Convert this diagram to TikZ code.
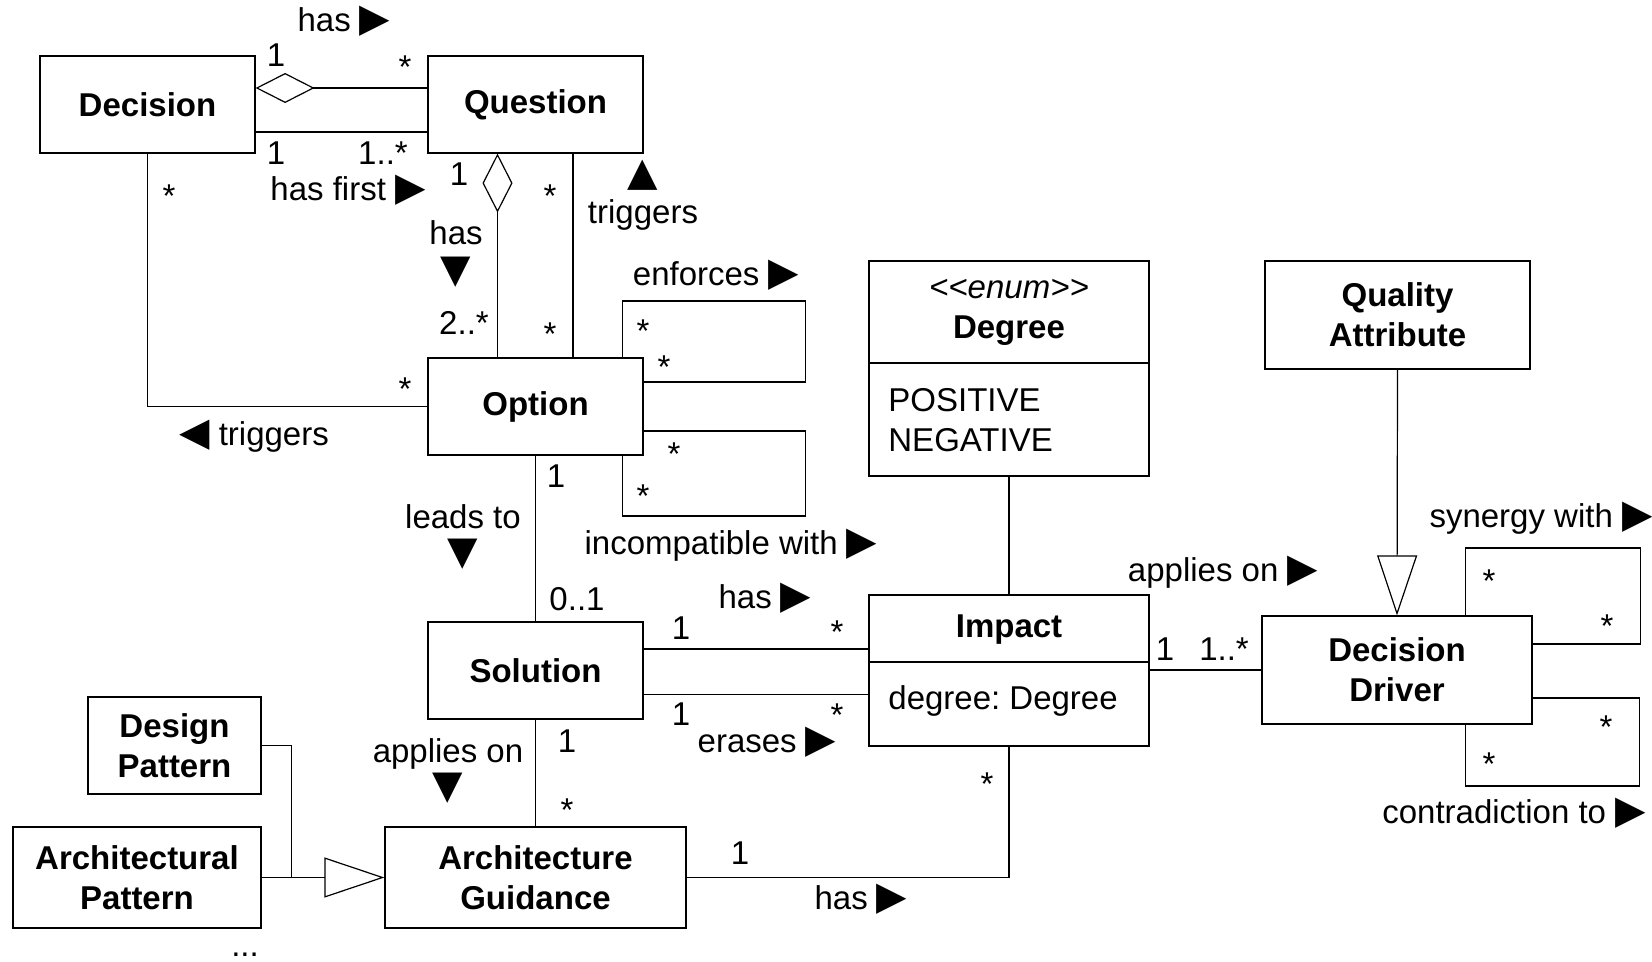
\documentclass[tikz,border=0pt]{standalone}
\usepackage{fontspec}
\setmainfont{Liberation Sans}
\newfontfamily\symfont[Scale=1.2]{DejaVu Sans}
\usetikzlibrary{arrows.meta,calc}
\newcommand{\trR}{{\symfont ▶}}
\newcommand{\trL}{{\symfont ◀}}
\newcommand{\trU}{{\symfont ▲}}
\newcommand{\trD}{{\symfont ▼}}
\begin{document}
\begin{tikzpicture}[x=0.5pt,y=-0.5pt,
		font=\fontsize{16.5}{20}\selectfont,
		cls/.style={draw,line width=0.6pt,align=center,inner sep=0pt,
			font=\fontsize{16.5}{20}\selectfont\bfseries,
			minimum width=107.5pt,minimum height=48.5pt},
		lbl/.style={inner sep=0pt,align=center},
		mult/.style={inner sep=0pt},
		assoc/.style={line width=0.6pt},
		agg/.style={assoc,{Diamond[open,length=29.5pt,width=15pt]}-},
		gen/.style={assoc,-{Triangle[open,length=30pt,width=20pt]}}]
		\useasboundingbox (0,0) rectangle (1652,962);
		% classes
		\node[cls] (decision) at (147.5,104.5) {Decision};
		\node[cls] (question) at (535.5,104.5) {Question};
		\node[cls] (option) at (535.5,406.5) {Option};
		\node[cls] (solution) at (535.5,670.5) {Solution};
		\node[cls,minimum width=140pt,minimum height=75.5pt] (impact) at (1009,670.5) {};
		\node[lbl,font=\fontsize{16.5}{20}\selectfont\bfseries] (impactname) at (1009,630) {Impact};
		\node[lbl,anchor=west] (impactattr) at (888,701) {degree:\ Degree};
		\node[cls,minimum width=140pt,minimum height=107.5pt] (degree) at (1009,368.5) {};
		\node[lbl] (degreename) at (1009,312) {\textit{<\kern0pt<enum>\kern0pt>}\\\textbf{Degree}};
		\node[lbl,anchor=west,align=left] (degreevals) at (888,420) {POSITIVE\\NEGATIVE};
		\node[cls,minimum width=132.5pt,minimum height=54pt] (qa) at (1397.5,315) {Quality\\Attribute};
		\node[cls,minimum width=135pt,minimum height=54pt] (dd) at (1397,670) {Decision\\Driver};
		\node[cls,minimum width=86.5pt,minimum height=48.5pt] (dp) at (174.5,745.5) {Design\\Pattern};
		\node[cls,minimum width=124pt,minimum height=50.5pt] (ap) at (137,877.5) {Architectural\\Pattern};
		\node[cls,minimum width=150.5pt,minimum height=50.5pt] (ag) at (535.5,877.5) {Architecture\\Guidance};
		\node[lbl] (more) at (245,955) {...};
		% compartments
		\draw[assoc] ($(impact.west)+(0,-8.5)$) -- ($(impact.east)+(0,-8.5)$);
		\draw[assoc] ($(degree.west)+(0,-5.5)$) -- ($(degree.east)+(0,-5.5)$);
		% connectors
		\draw[agg] ($(decision.east)+(0,-16.5)$) -- ($(question.west)+(0,-16.5)$);
		\draw[assoc] ($(decision.east)+(0,27.5)$) -- ($(question.west)+(0,27.5)$);
		\draw[assoc] (decision.south) |- (option.west);
		\draw[agg] ($(question.south)+(-38,0)$) -- ($(option.north)+(-38,0)$);
		\draw[assoc] ($(question.south)+(37.5,0)$) -- ($(option.north)+(37.5,0)$);
		\draw[assoc] ($(option.north east)+(-21,0)$) |- ($(option.east)+(162,-105.5)$) |- ($(option.east)+(0,-24.5)$);
		\draw[assoc] ($(option.east)+(0,24.5)$) -| ($(option.east)+(162,109.5)$) -| ($(option.south east)+(-21,0)$);
		\draw[assoc] (option.south) -- (solution.north);
		\draw[assoc] ($(solution.east)+(0,-21.5)$) -- ($(impact.west)+(0,-21.5)$);
		\draw[assoc] ($(solution.east)+(0,24)$) -- ($(impact.west)+(0,24)$);
		\draw[assoc] (solution.south) -- (ag.north);
		\draw[assoc] (impact.south) |- (ag.east);
		\draw[assoc] (degree.south) -- (impact.north);
		\draw[assoc] (impact.east |- dd.west) -- (dd.west);
		\draw[gen] (qa.south) -- (dd.north);
		\draw[assoc] ($(dd.north east)+(-67,0)$) |- ($(dd.east)+(108,-122)$) |- ($(dd.east)+(0,-26)$);
		\draw[assoc] ($(dd.east)+(0,28)$) -| ($(dd.east)+(107,116)$) -| ($(dd.south east)+(-67,0)$);
		\draw[gen] (ap.east) -- (ag.west);
		\draw[assoc] (dp.east) -| ($(ap.east)+(30,0)$);
		% association names
		\node[lbl] (nhas) at (344,21) {has \trR};
		\node[lbl] (nhasfirst) at (348,190) {has first \trR};
		\node[lbl] (nhasopt) at (456,254) {has\\[-1pt]\trD};
		\node[lbl] (ntrigq) at (643,195) {\trU\\[-1pt]triggers};
		\node[lbl] (ntrigd) at (254,436) {\trL{} triggers};
		\node[lbl] (nenforces) at (716,275) {enforces \trR};
		\node[lbl] (nincomp) at (731,545) {incompatible with \trR};
		\node[lbl] (nleads) at (463,537) {leads to\\[-2pt]\trD};
		\node[lbl] (nhasimp) at (765,598) {has \trR};
		\node[lbl] (nerases) at (767,742) {erases \trR};
		\node[lbl] (napplies) at (448,771) {applies on\\[-2pt]\trD};
		\node[lbl] (nhasag) at (861,899) {has \trR};
		\node[lbl] (nappliesdd) at (1223,572) {applies on \trR};
		\node[lbl] (nsynergy) at (1541,518) {synergy with \trR};
		\node[lbl] (ncontra) at (1514,813) {contradiction to \trR};
		% multiplicities
		\node[mult] (m1) at (276,55) {1};
		\node[mult] (m2) at (405,67) {*};
		\node[mult] (m3) at (276,153) {1};
		\node[mult] (m4) at (383,153) {1..*};
		\node[mult] (m5) at (169,196) {*};
		\node[mult] (m6) at (459,174) {1};
		\node[mult] (m7) at (550,196) {*};
		\node[mult] (m8) at (464,323) {2..*};
		\node[mult] (m9) at (550,334) {*};
		\node[mult] (m10) at (405,389) {*};
		\node[mult] (m11) at (643,331) {*};
		\node[mult] (m12) at (664,367) {*};
		\node[mult] (m13) at (674,454) {*};
		\node[mult] (m14) at (643,496) {*};
		\node[mult] (m15) at (556,476) {1};
		\node[mult] (m16) at (577,599) {0..1};
		\node[mult] (m17) at (681,628) {1};
		\node[mult] (m18) at (837,632) {*};
		\node[mult] (m19) at (681,714) {1};
		\node[mult] (m20) at (837,715) {*};
		\node[mult] (m21) at (567,741) {1};
		\node[mult] (m22) at (567,810) {*};
		\node[mult] (m23) at (987,784) {*};
		\node[mult] (m24) at (740,853) {1};
		\node[mult] (m25) at (1165,649) {1};
		\node[mult] (m26) at (1224,649) {1..*};
		\node[mult] (m27) at (1489,581) {*};
		\node[mult] (m28) at (1607,626) {*};
		\node[mult] (m29) at (1606,727) {*};
		\node[mult] (m30) at (1489,764) {*};
	\end{tikzpicture}
\end{document}
